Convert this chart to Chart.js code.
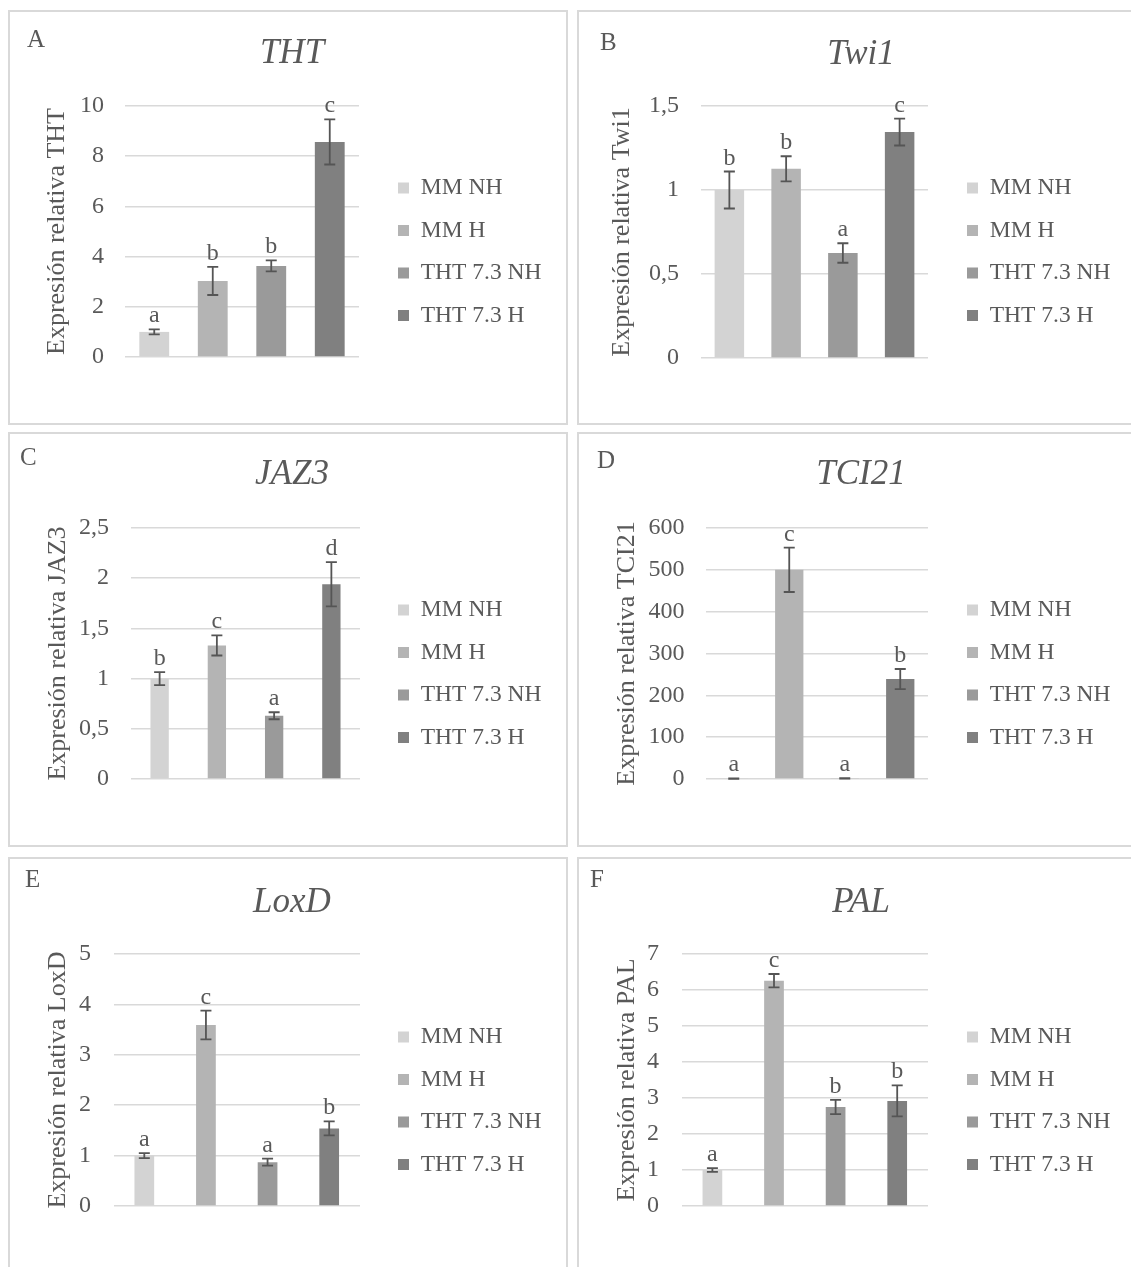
<!DOCTYPE html>
<html>
<head>
<meta charset="utf-8">
<script src="https://cdn.jsdelivr.net/npm/chart.js@4.4.0/dist/chart.umd.min.js"></script>
<style>
  html, body { margin: 0; padding: 0; background: #fff; overflow: hidden; width: 1131px; height: 1267px; }
  .panel { position: absolute; width: 560px; height: 415px; border: 2px solid #d9d9d9; box-sizing: border-box; background: #fff; }
  .panel canvas { position: absolute; left: 0; top: 0; }
</style>
</head>
<body>
<script>
// conditions (one series each) and per-gene values
const conditions = ["MM NH", "MM H", "THT 7.3 NH", "THT 7.3 H"];
const genes = ["THT", "Twi1", "JAZ3", "TCI21", "LoxD", "PAL"];
const panelLetters = ["A", "B", "C", "D", "E", "F"];
const yMax = [10, 1.5, 2.5, 600, 5, 7];
const yStep = [2, 0.5, 0.5, 100, 1, 1];

const thtMean = [1.0, 3.03, 3.63, 8.57];
const thtErr = [0.1, 0.56, 0.22, 0.9];
const thtLetters = ["a", "b", "b", "c"];

const twi1Mean = [1.0, 1.126, 0.625, 1.345];
const twi1Err = [0.11, 0.075, 0.058, 0.08];
const twi1Letters = ["b", "b", "a", "c"];

const jaz3Mean = [1.0, 1.33, 0.63, 1.94];
const jaz3Err = [0.065, 0.1, 0.035, 0.22];
const jaz3Letters = ["b", "c", "a", "d"];

const tci21Mean = [1.0, 500, 1.5, 239];
const tci21Err = [0.5, 53, 0.8, 24];
const tci21Letters = ["a", "c", "a", "b"];

const loxdMean = [1.0, 3.59, 0.87, 1.54];
const loxdErr = [0.05, 0.285, 0.07, 0.14];
const loxdLetters = ["a", "c", "a", "b"];

const palMean = [1.0, 6.26, 2.75, 2.92];
const palErr = [0.05, 0.185, 0.2, 0.43];
const palLetters = ["a", "c", "b", "b"];

const means = [thtMean, twi1Mean, jaz3Mean, tci21Mean, loxdMean, palMean];
const errs = [thtErr, twi1Err, jaz3Err, tci21Err, loxdErr, palErr];
const letters = [thtLetters, twi1Letters, jaz3Letters, tci21Letters, loxdLetters, palLetters];

const barColors = ["#d3d3d3", "#b4b4b4", "#9a9a9a", "#808080"];
const textColor = "#595959";
const fontFam = "Liberation Serif";

// page layout of each panel (absolute px)
const layout = [
  { left: 8,   top: 10,  plot: [125, 106, 359, 357],    bar: 0.51, yTitleX: 57.5, tickRight: 104,   titleY: 54,  letterX: 27,  letterY: 47,  legendX: 398, legendY: 188 },
  { left: 577, top: 10,  plot: [701, 106, 928, 358],    bar: 0.52, yTitleX: 622,  tickRight: 679,   titleY: 55,  letterX: 600, letterY: 50,  legendX: 967, legendY: 188 },
  { left: 8,   top: 432, plot: [131, 528, 360, 779],    bar: 0.32, yTitleX: 58,   tickRight: 109,   titleY: 475, letterX: 20,  letterY: 465, legendX: 398, legendY: 610 },
  { left: 577, top: 432, plot: [706, 528, 928, 779],    bar: 0.51, yTitleX: 627,  tickRight: 684.5, titleY: 475, letterX: 597, letterY: 468, legendX: 967, legendY: 610 },
  { left: 8,   top: 857, plot: [113.5, 954, 360, 1206], bar: 0.32, yTitleX: 58,   tickRight: 91,    titleY: 903, letterX: 25,  letterY: 887, legendX: 398, legendY: 1037 },
  { left: 577, top: 857, plot: [681.6, 954, 928, 1206], bar: 0.32, yTitleX: 627,  tickRight: 659,   titleY: 903, letterX: 590, letterY: 887, legendX: 967, legendY: 1037 }
];

Chart.defaults.font.family = fontFam;
Chart.defaults.color = textColor;

function makePanel(i) {
  const L = layout[i];
  const W = 556, H = 411;
  const div = document.createElement("div");
  div.className = "panel";
  div.style.left = L.left + "px";
  div.style.top = L.top + "px";
  const cv = document.createElement("canvas");
  cv.width = W;
  cv.height = H;
  div.appendChild(cv);
  document.body.appendChild(div);

  const ox = L.left + 2, oy = L.top + 2;
  const pl = L.plot[0] - ox, pt = L.plot[1] - oy, pr = L.plot[2] - ox, pb = L.plot[3] - oy;
  const padL = 8;
  const titleSize = 35, titleLH = titleSize * 1.2;
  const yTitleSize = 26;
  const legendPad = 19, legendFont = 23.5;

  const datasets = conditions.map((c, k) => ({
    label: c,
    data: conditions.map((_, j) => (j === k ? means[i][k] : null)),
    backgroundColor: barColors[k],
    borderWidth: 0,
    barPercentage: L.bar,
    categoryPercentage: 1,
    skipNull: true
  }));

  const extras = {
    id: "extras" + i,
    afterLayout(chart) {
      // put the legend where the reference has it, right of the plot
      const lg = chart.legend;
      lg.left = L.legendX - ox - legendPad;
      lg.right = lg.left + 200;
      lg.top = L.legendY - oy - legendPad - legendFont / 2;
      lg.bottom = lg.top + 250;
    },
    afterDatasetsDraw(chart) {
      const ctx = chart.ctx;
      const ys = chart.scales.y;
      ctx.save();
      ctx.strokeStyle = "#555555";
      ctx.lineWidth = 1.8;
      ctx.fillStyle = textColor;
      ctx.font = "24px '" + fontFam + "'";
      ctx.textAlign = "center";
      ctx.textBaseline = "alphabetic";
      for (let k = 0; k < conditions.length; k++) {
        const bar = chart.getDatasetMeta(k).data[k];
        const x = bar.x;
        const top = ys.getPixelForValue(means[i][k] + errs[i][k]);
        const bot = ys.getPixelForValue(means[i][k] - errs[i][k]);
        ctx.beginPath();
        ctx.moveTo(x, top); ctx.lineTo(x, bot);
        ctx.moveTo(x - 5.5, top); ctx.lineTo(x + 5.5, top);
        ctx.moveTo(x - 5.5, bot); ctx.lineTo(x + 5.5, bot);
        ctx.stroke();
        ctx.fillText(letters[i][k], x, top - 7);
      }
      ctx.textAlign = "left";
      ctx.font = "25px '" + fontFam + "'";
      ctx.fillText(panelLetters[i], L.letterX - ox, L.letterY - oy);
      ctx.restore();
    }
  };

  new Chart(cv, {
    type: "bar",
    data: { labels: conditions, datasets: datasets },
    options: {
      responsive: false,
      animation: false,
      devicePixelRatio: 1,
      layout: { padding: { left: padL, top: 0, right: 0, bottom: H - pb - 20 } },
      plugins: {
        title: {
          display: true,
          text: genes[i],
          color: textColor,
          font: { family: fontFam, size: titleSize, style: "italic", weight: "normal" },
          padding: { top: (L.titleY - oy) - titleLH / 2, bottom: pt - (L.titleY - oy) - titleLH / 2 }
        },
        legend: {
          position: "chartArea",
          align: "start",
          labels: {
            boxWidth: 11,
            boxHeight: 11,
            padding: legendPad,
            color: textColor,
            font: { family: fontFam, size: legendFont }
          }
        },
        tooltip: { enabled: false }
      },
      scales: {
        x: {
          ticks: { display: false },
          grid: { display: false },
          border: { display: false },
          afterFit: (s) => { s.height = 20; }
        },
        y: {
          min: 0,
          max: yMax[i],
          ticks: {
            stepSize: yStep[i],
            padding: pl - (L.tickRight - ox),
            color: textColor,
            font: { family: fontFam, size: 24 },
            callback: (v) => String(v).replace(".", ",")
          },
          grid: { color: "#d9d9d9", lineWidth: 1.5, drawTicks: false },
          border: { display: false },
          title: {
            display: true,
            text: "Expresión relativa " + genes[i],
            color: textColor,
            font: { family: fontFam, size: yTitleSize },
            padding: { top: (L.yTitleX - ox) - padL - yTitleSize * 0.6, bottom: 0 }
          },
          afterFit: (s) => { s.width = pl - padL; }
        },
        // empty right-hand space that holds the legend area, so the title stays centred on the panel
        side: {
          type: "linear",
          position: "right",
          ticks: { display: false },
          grid: { display: false },
          border: { display: false },
          afterFit: (s) => { s.width = W - pr; }
        }
      }
    },
    plugins: [extras]
  });
}

for (let i = 0; i < genes.length; i++) makePanel(i);
</script>
</body>
</html>
